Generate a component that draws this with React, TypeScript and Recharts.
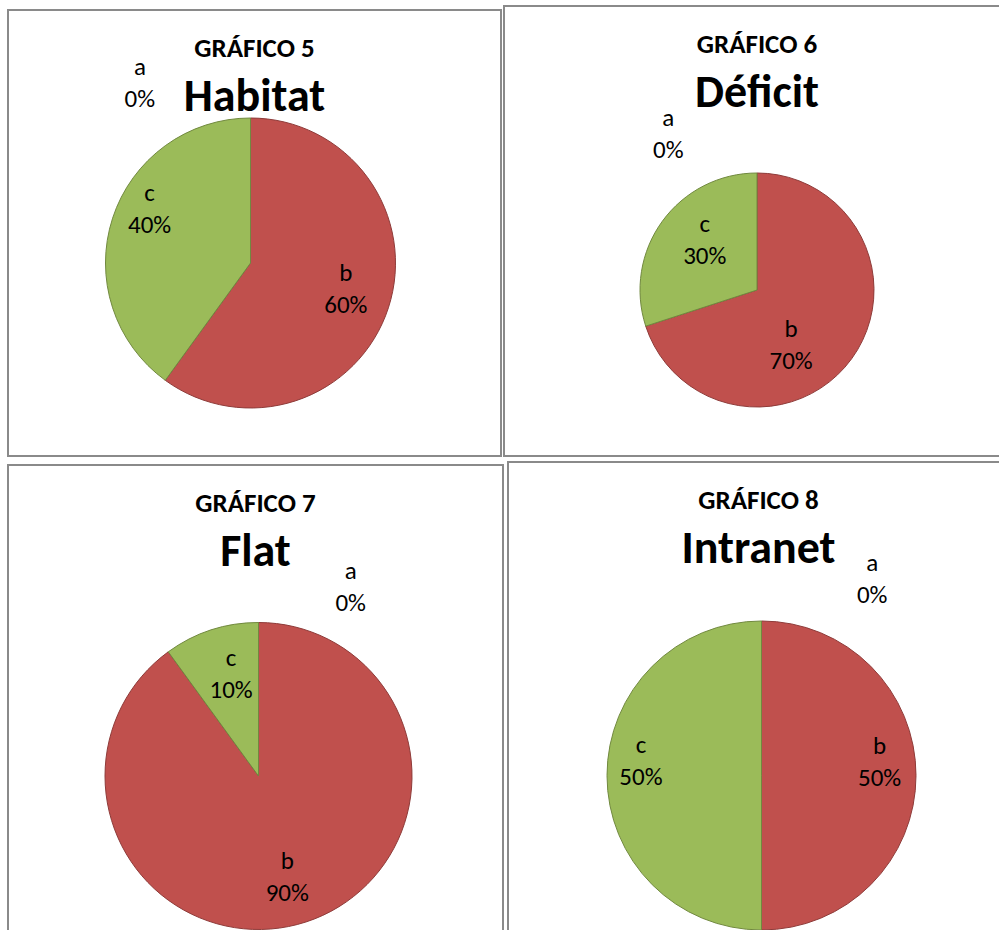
import { PieChart, Pie, Cell } from 'recharts';

const categories = ['a', 'b', 'c'];
const habitatValues = [0, 60, 40];
const deficitValues = [0, 70, 30];
const flatValues = [0, 90, 10];
const intranetValues = [0, 50, 50];

const chartNumbers = ['GRÁFICO 5', 'GRÁFICO 6', 'GRÁFICO 7', 'GRÁFICO 8'];
const chartNames = ['Habitat', 'Déficit', 'Flat', 'Intranet'];

const FILLS = ['#4F81BD', '#C0504D', '#9BBB59'];
const STROKES = ['#3A5F8B', '#8E3B39', '#71893F'];
const FONT = "Carlito, Calibri, Lato, sans-serif";

// label placement per slice: [polar angle in degrees, fraction of radius]
const panels = [
  { left: 7, top: 9, width: 495, height: 448, values: habitatValues, cx: 243.5, cy: 254, r: 145, titleX: 247.5,
    labelPos: [[121.5, 1.46], [-14.7, 0.68], [151.7, 0.79]] },
  { left: 503, top: 5, width: 500, height: 452, values: deficitValues, cx: 254, cy: 285, r: 117, titleX: 254,
    labelPos: [[119.5, 1.54], [-58, 0.55], [136, 0.62]] },
  { left: 7, top: 464, width: 497, height: 470, values: flatValues, cx: 251.5, cy: 312, r: 153.5, titleX: 248.5,
    labelPos: [[64, 1.37], [-74, 0.68], [105, 0.69]] },
  { left: 507, top: 461, width: 496, height: 473, values: intranetValues, cx: 254.5, cy: 314.5, r: 154.5, titleX: 251.5,
    labelPos: [[60.6, 1.46], [7, 0.77], [173, 0.786]] },
];

function PiePanel({ panel, idx }: { panel: any; idx: number }) {
  const data = categories.map((name, i) => ({ name, value: panel.values[i] }));
  const total = panel.values.reduce((s: number, v: number) => s + v, 0);

  const renderLabel = (props: any) => {
    const { cx, cy, outerRadius, index } = props;
    const [ang, f] = panel.labelPos[index];
    const rad = (ang * Math.PI) / 180;
    const x = cx + f * outerRadius * Math.cos(rad);
    const y = cy - f * outerRadius * Math.sin(rad);
    const pct = Math.round((data[index].value / total) * 100) + '%';
    return (
      <text key={'l' + index} x={x} y={y} textAnchor="middle" fill="#000" fontFamily={FONT} fontSize={25}>
        <tspan x={x} y={y - 16} dominantBaseline="central">{data[index].name}</tspan>
        <tspan x={x} y={y + 16} dominantBaseline="central">{pct}</tspan>
      </text>
    );
  };

  return (
    <div style={{ position: 'absolute', left: panel.left, top: panel.top, width: panel.width, height: panel.height }}>
      <div style={{ position: 'absolute', inset: 0, border: '2px solid #8a8a8a', boxSizing: 'border-box' }} />
      <div style={{ position: 'absolute', left: 0, top: 0 }}>
        <PieChart width={panel.width} height={panel.height} margin={{ top: 0, right: 0, bottom: 0, left: 0 }}>
          <Pie
            data={data}
            dataKey="value"
            nameKey="name"
            cx={panel.cx}
            cy={panel.cy}
            outerRadius={panel.r}
            startAngle={90}
            endAngle={-270}
            label={renderLabel}
            labelLine={false}
            isAnimationActive={false}
          >
            {data.map((d, i) => (
              <Cell key={d.name} fill={FILLS[i]} stroke={STROKES[i]} strokeWidth={1} />
            ))}
          </Pie>
        </PieChart>
      </div>
      <svg width={panel.width} height={130} style={{ position: 'absolute', left: 0, top: 0, pointerEvents: 'none' }}>
        <text x={panel.titleX} y={48} textAnchor="middle" fontFamily={FONT} fontWeight="bold" fontSize={27} fill="#000">
          {chartNumbers[idx]}
        </text>
        <text x={panel.titleX} y={102} textAnchor="middle" fontFamily={FONT} fontWeight="bold" fontSize={46} fill="#000">
          {chartNames[idx]}
        </text>
      </svg>
    </div>
  );
}

export default function App() {
  return (
    <div style={{ position: 'fixed', left: 0, top: 0, width: 999, height: 930, overflow: 'hidden', background: '#fff' }}>
      {panels.map((p, i) => (
        <PiePanel key={i} panel={p} idx={i} />
      ))}
    </div>
  );
}
